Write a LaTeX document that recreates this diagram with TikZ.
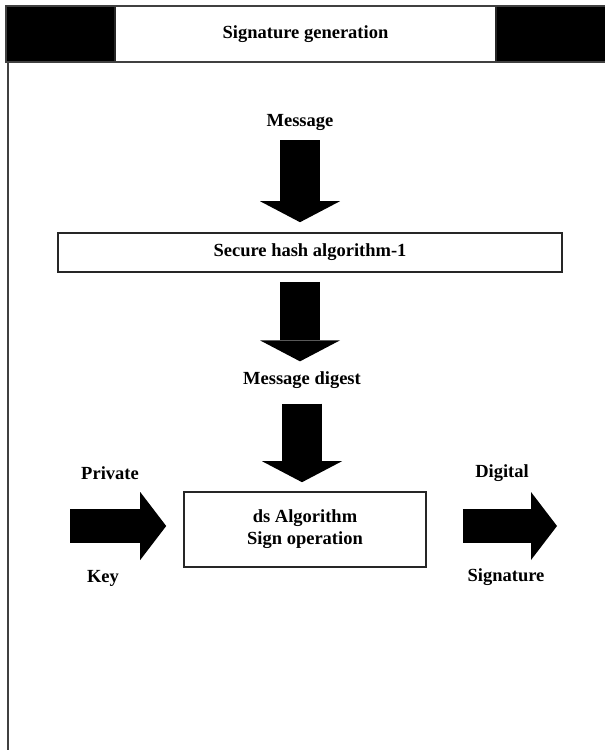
\documentclass[tikz,border=0pt]{standalone}
\usepackage{fontspec}
\setmainfont{Liberation Serif}
\usetikzlibrary{arrows.meta, positioning}
\tikzset{
    % Base style for all texts
    plaintext/.style={
        inner sep=0pt,
        align=center,
        font=\bfseries\fontsize{18.5}{22}\selectfont
    },
    % Boxed stages
    stagebox/.style={plaintext, rectangle, fill=white, draw=black!85, line width=1.6pt},
    % Block arrows
    bigdown/.style={line width=40pt, draw=black, -{Triangle[length=21pt, width=80pt, line width=0pt]}, shorten <=10pt, shorten >=10pt},
    bigright/.style={line width=34pt, draw=black, -{Triangle[length=26pt, width=68pt, line width=0pt]}},
    % Frame lines
    frameline/.style={draw=black!75, line width=1.6pt}
}

\begin{document}
\begin{tikzpicture}[x=1pt, y=-1pt]
    \useasboundingbox (0,0) rectangle (605,750);

    % --- Header bar ---
    \fill[black] (6,6) rectangle (605,62);
    \node (title) [stagebox, minimum width=381pt, minimum height=56pt] at (305.5,34) {Signature generation};
    \draw[frameline] (605,6) -- (6,6) -- (6,62) -- (605,62);
    \draw[frameline] (8,62) -- (8,750);

    % --- Main flow ---
    \node (msg) [plaintext] at (300,122) {Message};
    \node (sha) [stagebox, minimum width=504pt, minimum height=39pt] at (310,252.5) {Secure hash algorithm-1};
    \node (digest) [plaintext] at (302,380) {Message digest};
    \node (sign) [stagebox, minimum width=242pt, minimum height=75pt] at (305,529.5) {ds Algorithm\\Sign operation};

    % --- Side labels ---
    \node (private) [plaintext] at (110,473) {Private};
    \node (key) [plaintext] at (103,578) {Key};
    \node (digital) [plaintext] at (502,473) {Digital};
    \node (signature) [plaintext] at (506,577) {Signature};

    % --- Arrows ---
    \draw [bigdown] (msg.south) -- (msg.south |- sha.north);
    \draw [bigdown, shorten <=9pt] (msg.south |- sha.south) -- (msg.south |- digest.north);
    \draw [bigdown, shorten <=15pt, shorten >=9pt] (digest.south) -- (digest.south |- sign.north);

    \coordinate (keyin) at (70,526);
    \coordinate (sigout) at (557,526);
    \draw [bigright, shorten >=17pt] (keyin) -- (keyin -| sign.west);
    \draw [bigright, shorten <=36pt] (sign.east |- sigout) -- (sigout);

\end{tikzpicture}
\end{document}
